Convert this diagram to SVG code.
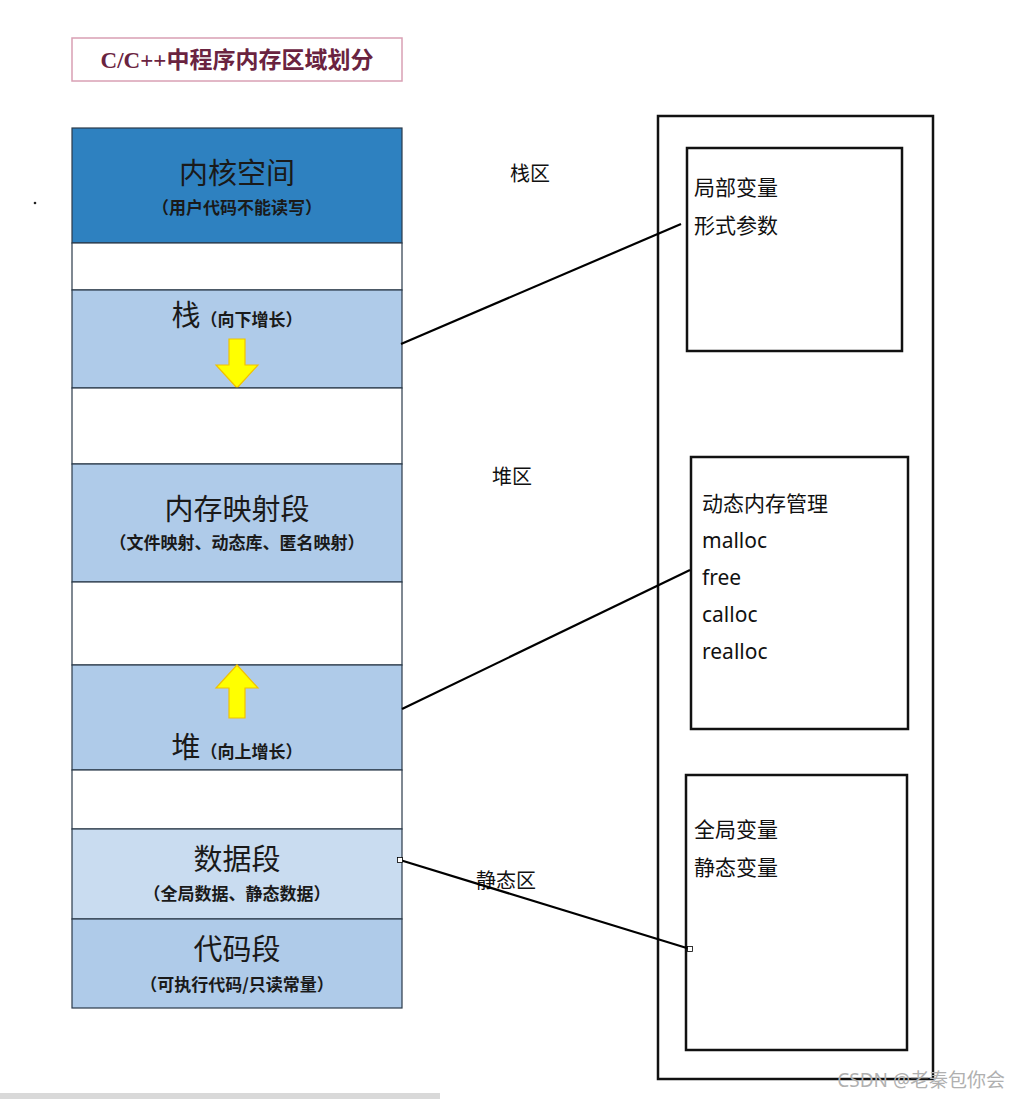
<svg xmlns="http://www.w3.org/2000/svg" width="1021" height="1099" viewBox="0 0 1021 1099">
<style>
.seg{stroke:#2b3a4a;stroke-width:1.2}
.blank{fill:#ffffff}
.mid{fill:#afcbe9}
.light{fill:#c9dcf0}
.kern{fill:#2e81c0}
.big{font-family:"Liberation Serif","Noto Sans CJK SC",serif;font-size:29px;fill:#1a1a1a;text-anchor:middle}
.sub{font-family:"Noto Sans CJK SC",sans-serif;font-size:17px;font-weight:bold;fill:#1a1a1a;text-anchor:middle}
.box{fill:#ffffff;stroke:#111;stroke-width:2.5}
.lbl{font-family:"Noto Sans CJK SC",sans-serif;font-size:20px;fill:#111}
.item{font-family:"Noto Sans","Noto Sans CJK SC",sans-serif;font-size:21px;fill:#111}
.conn{stroke:#000;stroke-width:2.2;fill:none}
.arrow{fill:#ffff00;stroke:#f2c200;stroke-width:1.2}
</style>
<rect width="1021" height="1099" fill="#ffffff"/>
<rect x="0" y="1093" width="440" height="6" fill="#d9d9d9"/>
<circle cx="35" cy="203" r="1.3" fill="#222"/>

<g id="title">
<rect x="72" y="38" width="330" height="43" fill="#ffffff" stroke="#d9a0b4" stroke-width="1.5"/>
<text x="237" y="68" font-family="Liberation Serif,'Noto Sans CJK SC',serif" font-size="23" font-weight="bold" fill="#6a2340" text-anchor="middle">C/C++中程序内存区域划分</text>
</g>

<g id="kernel">
<rect class="seg kern" x="72" y="128" width="330" height="115"/>
<text class="big" x="237" y="184">内核空间</text>
<text class="sub" x="237" y="214">（用户代码不能读写）</text>
</g>
<g id="gap1"><rect class="seg blank" x="72" y="243" width="330" height="47"/></g>
<g id="stack">
<rect class="seg mid" x="72" y="290" width="330" height="98"/>
<text x="237" y="326" text-anchor="middle"><tspan class="big" style="font-size:29px">栈</tspan><tspan class="sub" style="font-size:17px">（向下增长）</tspan></text>
<polygon class="arrow" points="229,339 245,339 245,365 258,365 237,388 216,365 229,365"/>
</g>
<g id="gap2"><rect class="seg blank" x="72" y="388" width="330" height="76"/></g>
<g id="mmap">
<rect class="seg mid" x="72" y="464" width="330" height="118"/>
<text class="big" x="237" y="520">内存映射段</text>
<text class="sub" x="237" y="549">（文件映射、动态库、匿名映射）</text>
</g>
<g id="gap3"><rect class="seg blank" x="72" y="582" width="330" height="83"/></g>
<g id="heap">
<rect class="seg mid" x="72" y="665" width="330" height="105"/>
<polygon class="arrow" points="237,665 258,688 245,688 245,718 229,718 229,688 216,688"/>
<text x="237" y="758" text-anchor="middle"><tspan class="big" style="font-size:29px">堆</tspan><tspan class="sub" style="font-size:17px">（向上增长）</tspan></text>
</g>
<g id="gap4"><rect class="seg blank" x="72" y="770" width="330" height="59"/></g>
<g id="data">
<rect class="seg light" x="72" y="829" width="330" height="90"/>
<text class="big" x="237" y="870">数据段</text>
<text class="sub" x="237" y="900">（全局数据、静态数据）</text>
</g>
<g id="code">
<rect class="seg mid" x="72" y="919" width="330" height="89"/>
<text class="big" x="237" y="960">代码段</text>
<text class="sub" x="237" y="991">（可执行代码/只读常量）</text>
</g>

<g id="labels">
<text class="lbl" x="510" y="181">栈区</text>
<text class="lbl" x="492" y="484">堆区</text>
<text class="lbl" x="476" y="888">静态区</text>
</g>

<g id="outer"><rect class="box" x="658" y="116" width="275" height="963"/></g>
<g id="stackbox">
<rect class="box" x="687" y="148" width="215" height="203"/>
<text class="item" x="694" y="195">局部变量</text>
<text class="item" x="694" y="233">形式参数</text>
</g>
<g id="heapbox">
<rect class="box" x="691" y="457" width="217" height="272"/>
<text class="item" x="702" y="511">动态内存管理</text>
<text class="item" x="702" y="548">malloc</text>
<text class="item" x="702" y="585">free</text>
<text class="item" x="702" y="622">calloc</text>
<text class="item" x="702" y="659">realloc</text>
</g>
<g id="staticbox">
<rect class="box" x="686" y="775" width="221" height="275"/>
<text class="item" x="694" y="837">全局变量</text>
<text class="item" x="694" y="875">静态变量</text>
</g>

<g id="connectors">
<line class="conn" x1="401" y1="344" x2="681" y2="224"/>
<line class="conn" x1="402" y1="709" x2="690" y2="570"/>
<line class="conn" x1="400" y1="860" x2="690" y2="949"/>
<rect x="397.5" y="857.5" width="5" height="5" fill="#fff" stroke="#000" stroke-width="0.8"/>
<rect x="687.5" y="946.5" width="5" height="5" fill="#fff" stroke="#000" stroke-width="0.8"/>
</g>

<text x="1005" y="1087" font-family="'Noto Sans','Noto Sans CJK SC',sans-serif" font-size="19" fill="#b0b0b0" text-anchor="end">CSDN @老秦包你会</text>
</svg>
